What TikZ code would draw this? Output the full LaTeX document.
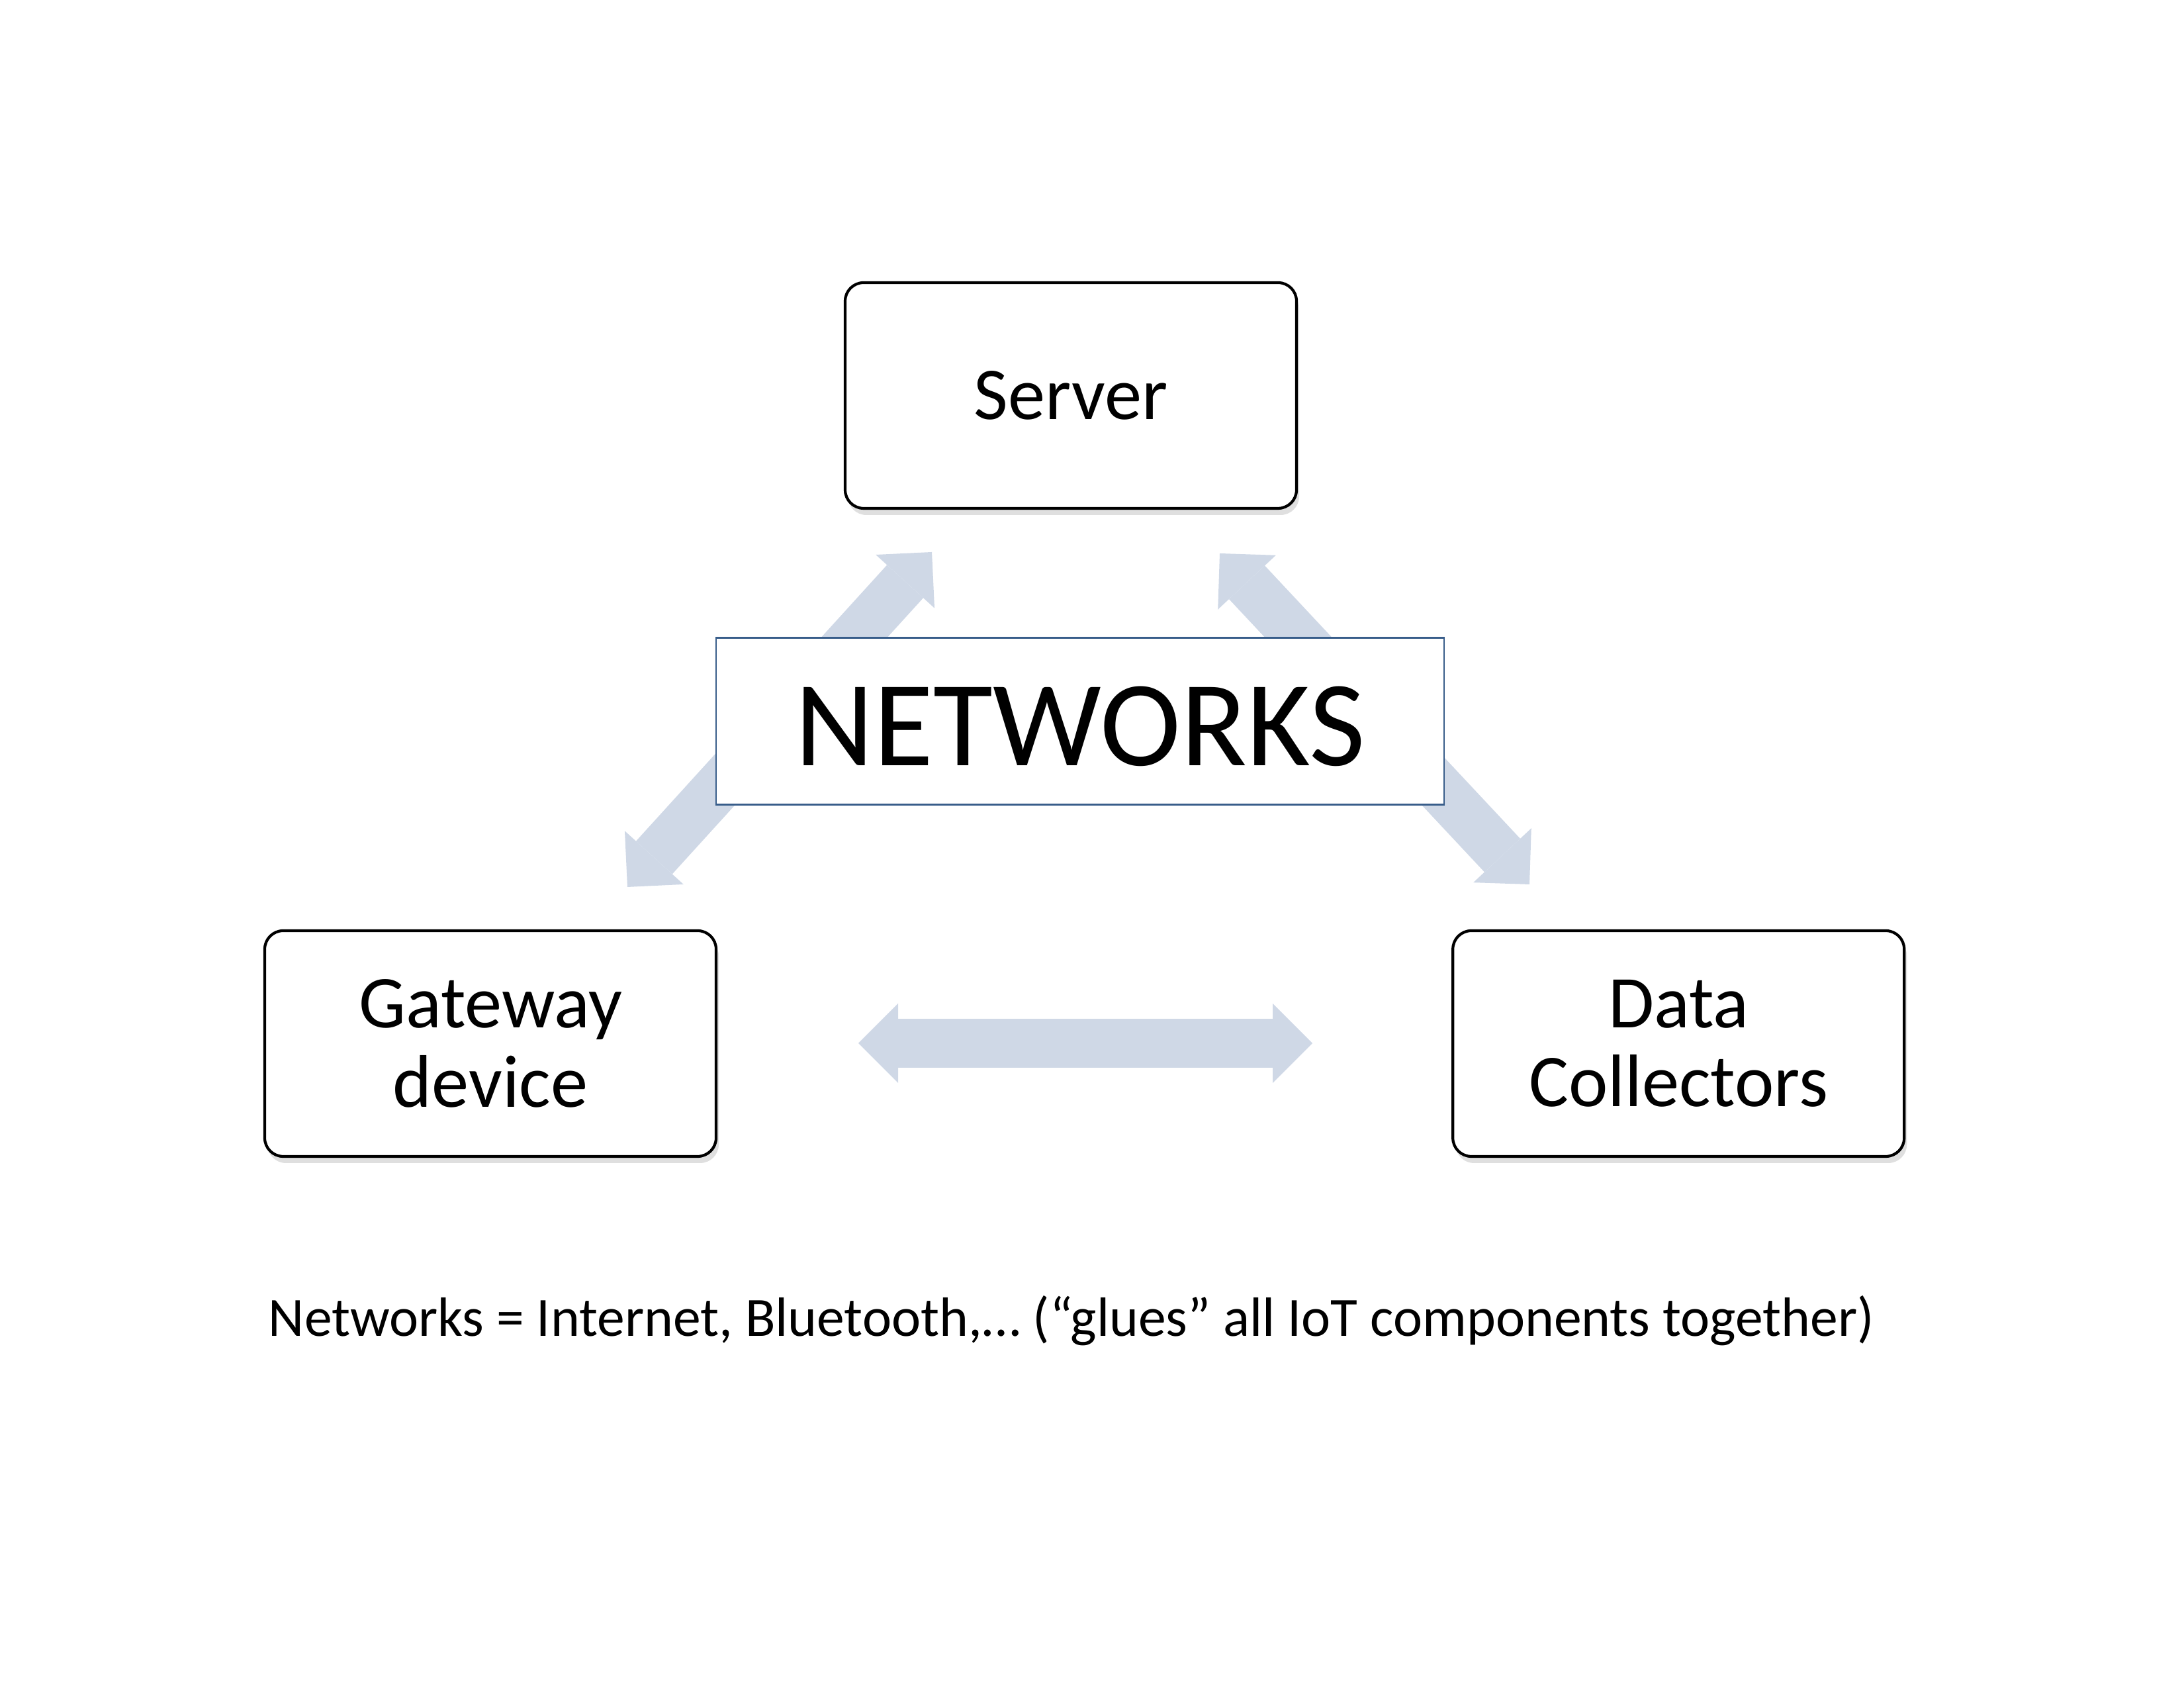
\documentclass[tikz,border=0pt]{standalone}
\usepackage{fontspec}
\setmainfont{Carlito}
\usepackage{tikz}
\usetikzlibrary{arrows.meta,calc,positioning,shadows}
\definecolor{arrowblue}{RGB}{207,216,230}
\definecolor{netblue}{RGB}{56,93,138}

\begin{document}
\begin{tikzpicture}[
  box/.style={draw, line width=1.2pt, rounded corners=2.8mm, fill=white, align=center,
    minimum width=6.82cm, minimum height=3.41cm, font=\fontsize{32}{34}\selectfont,
    drop shadow={shadow xshift=0.4mm, shadow yshift=-1mm, opacity=0.25}},
  netbox/.style={draw=netblue, line width=0.8pt, fill=white, minimum width=11cm,
    minimum height=2.52cm, text height=38pt, text depth=0pt,
    font=\fontsize{52.4}{56}\selectfont},
  bigarr/.style={draw=arrowblue, line width=7.4mm,
    {Triangle[width=12mm 0, length=6mm 0, line width=0pt]}-{Triangle[width=12mm 0, length=6mm 0, line width=0pt]}}
]
\useasboundingbox (0,0) rectangle (33,25.5);
\node[box] (srv) at (16.18,19.525) {Server};
\node[box] (gw) at (7.41,9.735) {Gateway\\device};
\node[box, right=11.09cm of gw] (dc) {Data\\Collectors};
% arrow ends
\coordinate (gwup) at (9.48,12.10);
\coordinate (srvleft) at (14.08,17.16);
\coordinate (srvright) at (18.43,17.14);
\coordinate (dcup) at (23.11,12.14);
\coordinate (gwright) at (12.97,9.74);
\coordinate (dcleft) at (19.83,9.74);
\draw[bigarr] (gwup) -- (srvleft);
\draw[bigarr] (srvright) -- (dcup);
\draw[bigarr] (gwright) -- (dcleft);
\node[netbox, below=1.92cm of srv, xshift=1.4mm] (net) {NETWORKS};
\node[font=\fontsize{23.8}{28}\selectfont] (note) at (16.19,5.55)
  {Networks = Internet, Bluetooth,… (“glues” all IoT components together)};
\end{tikzpicture}
\end{document}
